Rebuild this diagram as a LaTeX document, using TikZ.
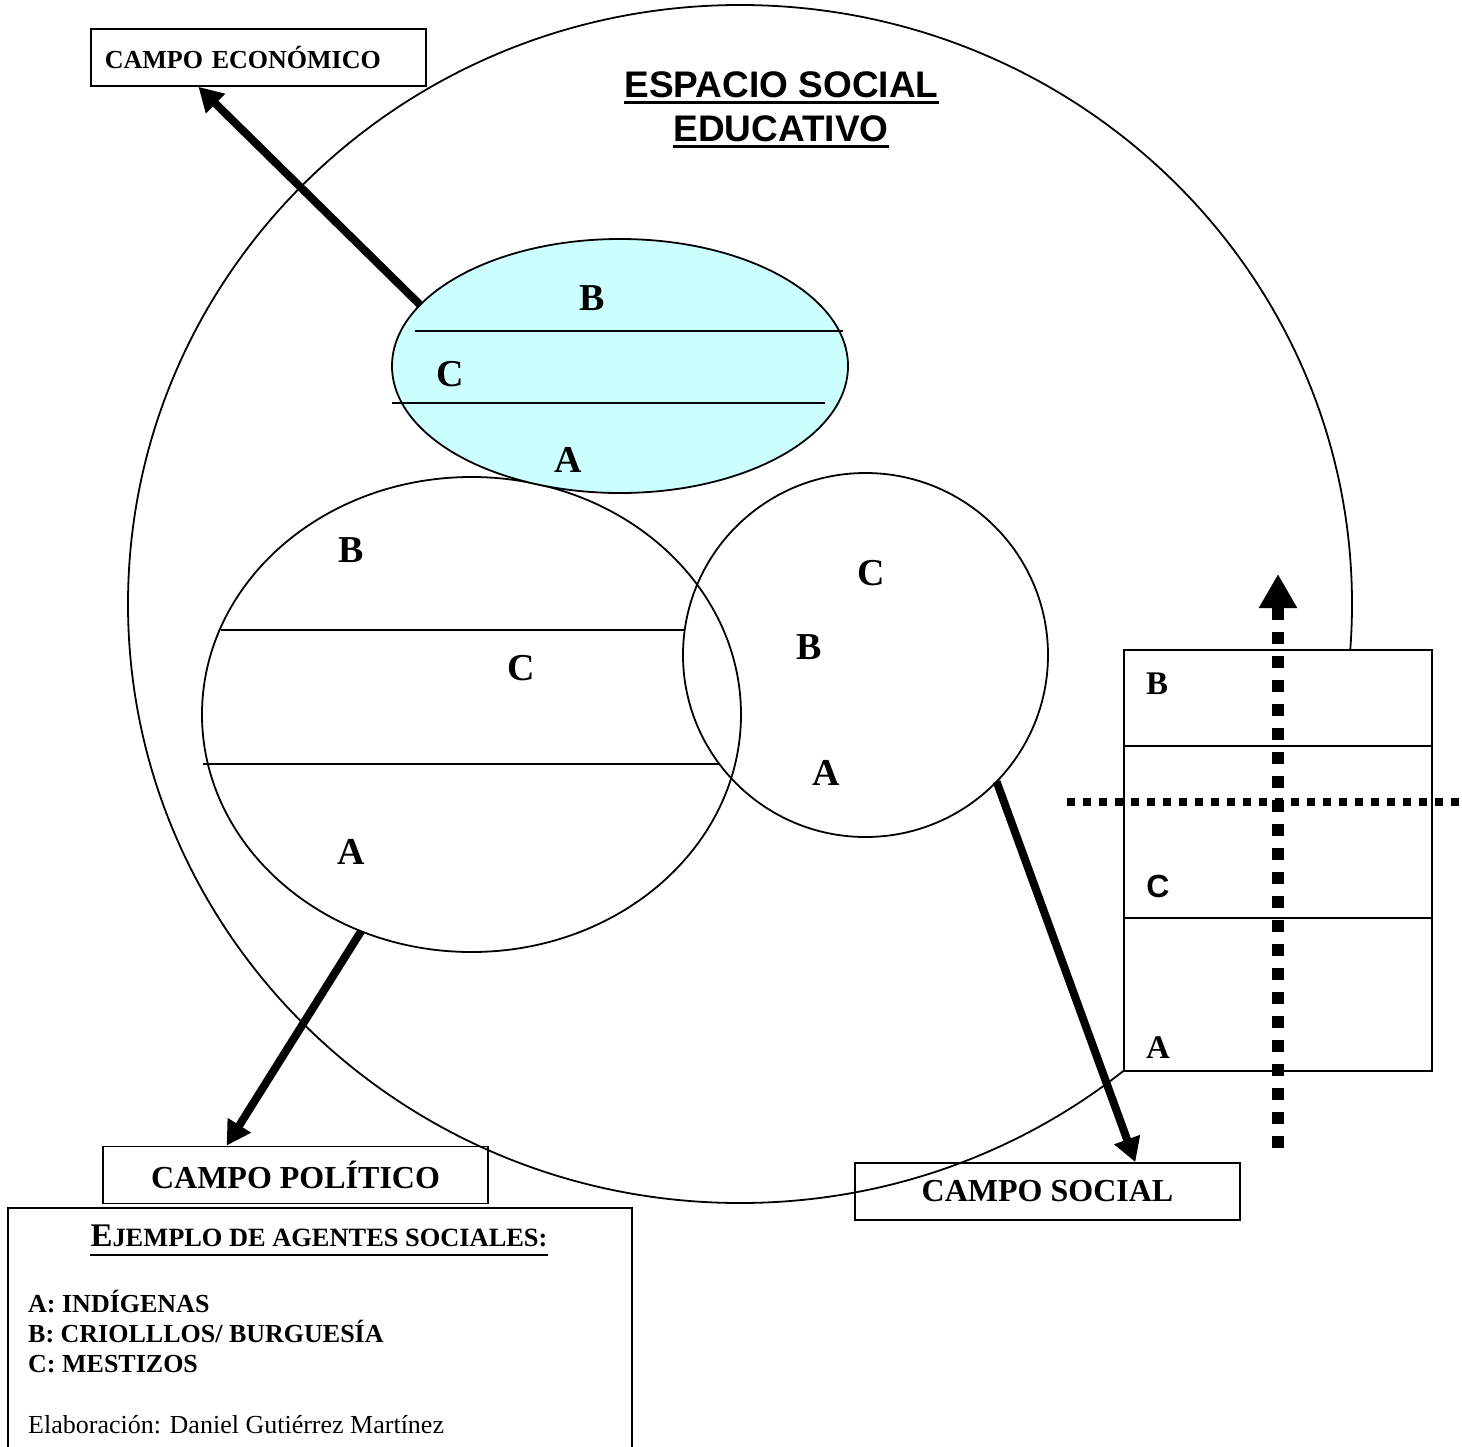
\documentclass[tikz,border=0pt]{standalone}
\usepackage{fontspec}
\setmainfont{Liberation Serif}
\newfontfamily\sansfam{Liberation Sans}
\usetikzlibrary{shapes.geometric,arrows.meta,calc}
\definecolor{lightcyan}{RGB}{204,255,255}

\begin{document}
\begin{tikzpicture}[x=1pt,y=-1pt,
  thinline/.style={line width=1.8pt},
  field/.style={ellipse, draw, line width=1.8pt, inner sep=0pt, outer sep=0pt},
  fieldbox/.style={draw, line width=1.8pt, inner sep=0pt, minimum height=57pt,
    font=\bfseries\fontsize{32}{36}\selectfont},
  agent/.style={font=\bfseries\fontsize{38}{40}\selectfont, inner sep=0pt},
  boxagent/.style={font=\bfseries\fontsize{33}{36}\selectfont, inner sep=0pt},
  boxagentsans/.style={font=\sansfam\bfseries\fontsize{32}{36}\selectfont, inner sep=0pt},
  legendline/.style={anchor=base west, inner sep=0pt, font=\bfseries\fontsize{26}{30}\selectfont},
  bigarrow/.style={line width=8pt, -{Triangle[length=24pt,width=26pt]}},
]
\useasboundingbox (0,0) rectangle (1462,1446);

% the educational social space
\node[field, minimum width=1224pt, minimum height=1198pt] (space) at (740,604) {};

% title
\node[anchor=base, inner sep=0pt, font=\sansfam\bfseries\fontsize{37}{40}\selectfont] (title1) at (781.5,97) {ESPACIO SOCIAL};
\node[anchor=base, inner sep=0pt, font=\sansfam\bfseries\fontsize{37}{40}\selectfont] (title2) at (781,141) {EDUCATIVO};
\draw[line width=3.5pt] ([yshift=-5.5pt]title1.base west) -- ([yshift=-5.5pt]title1.base east);
\draw[line width=3.5pt] ([yshift=-5.5pt]title2.base west) -- ([yshift=-5.5pt]title2.base east);

% political field
\node[field, minimum width=539pt, minimum height=475pt] (pol) at (471.5,714.5) {};
\draw[thinline] (221,630) -- (684,630);
\draw[thinline] (203,764) -- (720,764);
\node[agent] (polB) at (351,550) {B};
\node[agent] (polC) at (521,668) {C};
\node[agent] (polA) at (351,852) {A};

% social field
\node[field, minimum width=365pt, minimum height=364pt] (soc) at (865.5,655) {};
\node[agent] (socC) at (871,573) {C};
\node[agent] (socB) at (809,647) {B};
\node[agent] (socA) at (826,773) {A};

% economic field
\node[field, fill=lightcyan, minimum width=456pt, minimum height=254pt] (eco) at (620,366) {};
\draw[thinline] (415,331) -- (843,331);
\draw[thinline] (392,403) -- (825,403);
\node[agent] (ecoB) at (592,298) {B};
\node[agent] (ecoC) at (450,374) {C};
\node[agent] (ecoA) at (568,460) {A};

% field labels
\node[draw, line width=1.8pt, anchor=north west, minimum height=57pt, inner xsep=14pt, inner ysep=0pt,
  text width=307pt, align=left, font=\bfseries\fontsize{26}{30}\selectfont] (econ) at (90,28) {CAMPO ECONÓMICO};
\node[fieldbox, minimum width=385pt] (polbox) at (295.5,1175) {CAMPO POLÍTICO};
\node[fieldbox, minimum width=385pt] (socbox) at (1047.5,1191.5) {CAMPO SOCIAL};

% arrows from each field to its label
\draw[bigarrow] (eco.163) -- ($(econ.south west)!0.322!(econ.south east)$);
\draw[bigarrow] (pol.243) -- ($(polbox.north west)!0.322!(polbox.north east)$);
\draw[bigarrow] (soc.-44) -- ($(socbox.north west)!0.727!(socbox.north east)$);

% legend
\draw[thinline] (8,1460) -- (8,1208) -- (632,1208) -- (632,1460);
\node[anchor=base, inner sep=0pt, font=\bfseries\fontsize{33}{36}\selectfont] (head) at (319,1246)
  {E{\fontsize{26.4}{30}\selectfont JEMPLO DE AGENTES SOCIALES:}};
\draw[line width=2.5pt] ([yshift=-9pt]head.base west) -- ([yshift=-9pt]head.base east);
\node[legendline] (legA) at (28,1312) {A: INDÍGENAS};
\node[legendline] (legB) at (28,1342) {B: CRIOLLLOS/ BURGUESÍA};
\node[legendline] (legC) at (28,1372) {C: MESTIZOS};
\node[legendline, font=\fontsize{26}{30}\selectfont] (credit) at (28,1433) {Elaboración: Daniel Gutiérrez Martínez};

% stratification scale
\node[draw, fill=white, line width=1.8pt, inner sep=0pt, minimum width=308pt, minimum height=421pt] (strata) at (1278,860.5) {};
\draw[thinline] (1124,746) -- (1432,746);
\draw[thinline] (1124,918) -- (1432,918);
\node[boxagent] (strB) at (1157,684) {B};
\node[boxagentsans] (strC) at (1158,886) {C};
\node[boxagent] (strA) at (1158,1048) {A};

% dotted axes
\draw[line width=8pt, dash pattern=on 8pt off 8pt] (1067,802) -- (1470,802);
\draw[line width=12pt, dash pattern=on 12pt off 12pt, -{Triangle[length=34pt,width=36pt]}] (1278,1148) -- (1278,574);
\end{tikzpicture}
\end{document}
